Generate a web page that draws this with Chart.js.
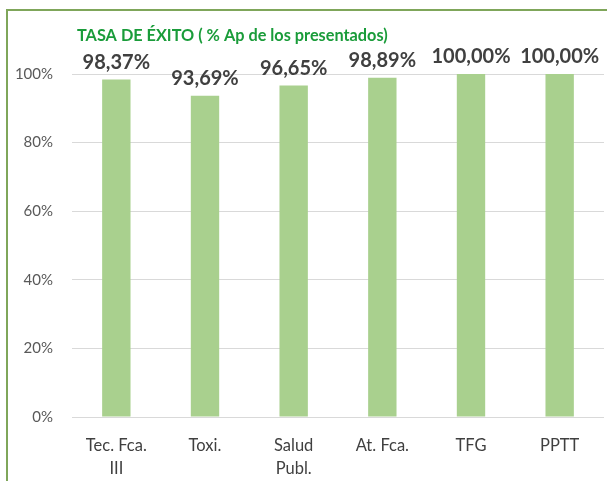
<!DOCTYPE html>
<html>
<head>
<meta charset="utf-8">
<script src="https://cdn.jsdelivr.net/npm/chart.js@4/dist/chart.umd.min.js"></script>
<style>
  html, body { margin: 0; padding: 0; background: #fff; }
  #frame { position: absolute; left: 6px; top: 9px; width: 610px; height: 480px;
           border-top: 2px solid #7fa65a; border-left: 2px solid #7fa65a; }
  #wrap { position: absolute; left: 0; top: 0; width: 607px; height: 481px; }
</style>
</head>
<body>
<div id="frame"></div>
<div id="wrap"><canvas id="chart" width="607" height="481"></canvas></div>
<script>
var chartTitle = "TASA DE ÉXITO ( % Ap de los presentados)";
var categories = [["Tec. Fca.", "III"], "Toxi.", ["Salud", "Publ."], "At. Fca.", "TFG", "PPTT"];
var successRate = [98.37, 93.69, 96.65, 98.89, 100, 100];
var yTicks = [0, 20, 40, 60, 80, 100];

var FONT = "Lato, 'Open Sans', sans-serif";

// labels above each bar, Excel style "98,37%"
var barLabels = {
    id: "barLabels",
    afterDatasetsDraw: function (chart) {
        var ctx = chart.ctx;
        var meta = chart.getDatasetMeta(0);
        ctx.save();
        ctx.font = "bold 20px " + FONT;
        ctx.fillStyle = "#404040";
        ctx.textAlign = "center";
        ctx.textBaseline = "bottom";
        meta.data.forEach(function (bar, i) {
            var txt = successRate[i].toFixed(2).replace(".", ",") + "%";
            ctx.fillText(txt, bar.x, bar.y - 7);
        });
        ctx.restore();
    }
};

// title sits just right of the plot's left edge
var leftTitle = {
    id: "leftTitle",
    afterDraw: function (chart) {
        var ctx = chart.ctx;
        ctx.save();
        ctx.font = "bold 16.3px " + FONT;
        ctx.fillStyle = "#1a9c3a";
        ctx.textAlign = "left";
        ctx.textBaseline = "middle";
        ctx.fillText(chartTitle, chart.chartArea.left + 5, 36);
        ctx.restore();
    }
};

new Chart(document.getElementById("chart"), {
    type: "bar",
    data: {
        labels: categories,
        datasets: [{
            data: successRate,
            backgroundColor: "#a9d08e",
            borderWidth: 0,
            barPercentage: 0.32,
            categoryPercentage: 1
        }]
    },
    options: {
        responsive: false,
        animation: false,
        layout: { padding: { left: 15, right: 3, top: 74, bottom: 6 } },
        plugins: {
            legend: { display: false },
            title: { display: false },
            tooltip: { enabled: false }
        },
        scales: {
            x: {
                grid: { display: false },
                border: { display: false },
                ticks: {
                    color: "#404040",
                    font: { family: FONT, size: 16.5, lineHeight: 1.35 },
                    padding: 10,
                    maxRotation: 0,
                    autoSkip: false
                },
                afterFit: function (s) { s.height = 58; }
            },
            y: {
                min: 0,
                max: 100,
                afterBuildTicks: function (s) {
                    s.ticks = yTicks.map(function (v) { return { value: v }; });
                },
                grid: { color: "#d9d9d9", lineWidth: 1, drawTicks: false },
                border: { display: false },
                ticks: {
                    color: "#595959",
                    font: { family: FONT, size: 15 },
                    padding: 19,
                    callback: function (v) { return v + "%"; }
                },
                afterFit: function (s) { s.width = 57; }
            }
        }
    },
    plugins: [barLabels, leftTitle]
});
</script>
</body>
</html>
